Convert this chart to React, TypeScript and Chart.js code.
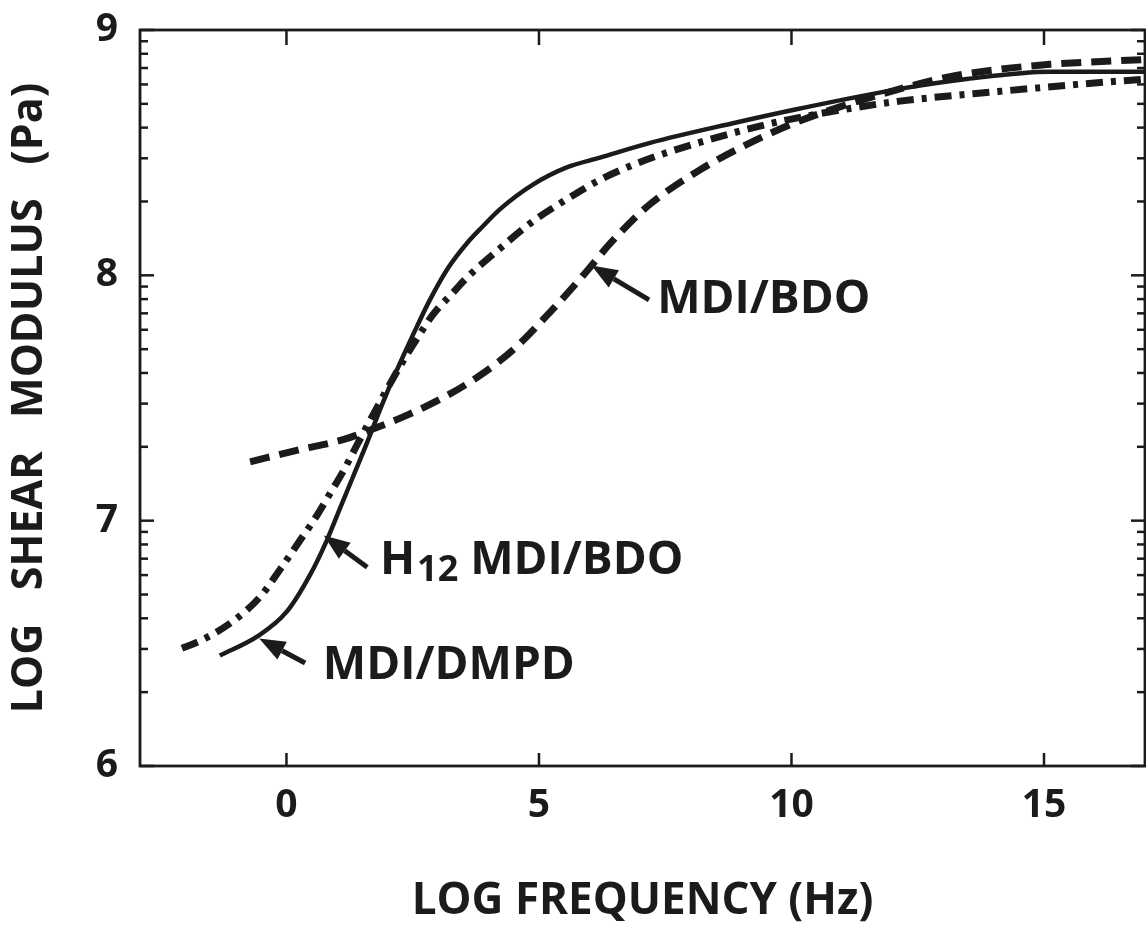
import React, { useEffect, useRef } from "react";
import { Chart, registerables } from "chart.js";

Chart.register(...registerables);

// ---------- data ----------
const xTickValues = [0, 5, 10, 15];
const yTickValues = [6, 7, 8, 9];
const yMinorFactors = [2, 3, 4, 5, 6, 7, 8, 9];

const xTitle = "LOG FREQUENCY (Hz)";
const yTitle = "LOG   SHEAR   MODULUS   (Pa)";

// MDI/DMPD (solid)
const dmpdX = [-1.32, -0.56, 0.01, 0.47, 0.8, 1.06, 1.32, 1.6, 1.79, 2.05, 2.31, 2.58, 2.84, 3.2, 3.57, 3.89, 4.23, 4.88, 5.55, 6.21, 7.2, 8.84, 10.17, 12.15, 13.47, 15.12, 17.0];
const dmpdY = [6.45, 6.53, 6.63, 6.78, 6.92, 7.05, 7.18, 7.32, 7.42, 7.55, 7.67, 7.79, 7.9, 8.03, 8.13, 8.2, 8.27, 8.37, 8.44, 8.48, 8.54, 8.62, 8.68, 8.76, 8.8, 8.83, 8.83];

// H12 MDI/BDO (dash-dot)
const h12X = [-2.07, -1.71, -1.06, -0.52, -0.13, 0.27, 0.6, 0.86, 1.12, 1.4, 1.79, 2.25, 2.64, 2.9, 3.3, 3.57, 4.23, 4.88, 5.55, 6.21, 6.86, 7.53, 8.84, 9.83, 11.16, 12.15, 14.13, 15.77, 17.0];
const h12Y = [6.48, 6.51, 6.59, 6.69, 6.8, 6.92, 7.02, 7.11, 7.2, 7.31, 7.46, 7.63, 7.76, 7.84, 7.93, 7.99, 8.11, 8.22, 8.31, 8.39, 8.45, 8.5, 8.58, 8.63, 8.68, 8.71, 8.75, 8.78, 8.8];

// MDI/BDO (dashed)
const bdoX = [-0.72, 0.27, 1.12, 1.79, 2.39, 3.18, 3.89, 4.56, 5.22, 5.75, 6.0, 6.41, 7.2, 8.19, 9.18, 10.17, 11.16, 12.15, 13.14, 14.13, 15.12, 17.0];
const bdoY = [7.24, 7.29, 7.33, 7.38, 7.43, 7.51, 7.6, 7.71, 7.85, 7.97, 8.03, 8.13, 8.29, 8.43, 8.54, 8.63, 8.7, 8.76, 8.81, 8.84, 8.86, 8.88];

// annotations (data coordinates)
const labelMain = ["MDI/BDO", "H", "MDI/DMPD"];
const labelSub = ["", "12", ""];
const labelRest = ["", " MDI/BDO", ""];
const labelX = [7.34, 1.85, 0.72];
const labelY = [7.9, 6.835, 6.41];
const arrowTipX = [6.04, 0.74, -0.54];
const arrowTipY = [8.04, 6.94, 6.52];
const arrowTailX = [7.18, 1.6, 0.37];
const arrowTailY = [7.9, 6.81, 6.42];

const INK = "#1b1b1b";
const FONT = "'Open Sans', 'Noto Sans', sans-serif";

const toPoints = (xs: number[], ys: number[]) => xs.map((x, i) => ({ x, y: ys[i] }));

const framePlugin = {
  id: "frameTicks",
  afterDatasetsDraw(chart: any) {
    const { ctx, chartArea: a, scales } = chart;
    const x = scales.x;
    const y = scales.y;
    ctx.save();
    ctx.strokeStyle = INK;
    ctx.lineWidth = 2.8;
    ctx.strokeRect(a.left, a.top, a.right - a.left, a.bottom - a.top);
    const seg = (x1: number, y1: number, x2: number, y2: number) => {
      ctx.beginPath();
      ctx.moveTo(x1, y1);
      ctx.lineTo(x2, y2);
      ctx.stroke();
    };
    ctx.lineWidth = 2.5;
    for (const v of xTickValues) {
      const px = x.getPixelForValue(v);
      seg(px, a.bottom, px, a.bottom - 13);
      seg(px, a.top, px, a.top + 15);
    }
    for (let d = yTickValues[0]; d < yTickValues[yTickValues.length - 1]; d++) {
      for (const f of yMinorFactors) {
        const py = y.getPixelForValue(d + Math.log10(f));
        seg(a.left, py, a.left + 8, py);
        seg(a.right, py, a.right - 8, py);
      }
    }
    for (const v of yTickValues) {
      const py = y.getPixelForValue(v);
      seg(a.left, py, a.left + 14, py);
      seg(a.right, py, a.right - 14, py);
    }
    ctx.restore();
  },
};

const annotationPlugin = {
  id: "labelsArrows",
  afterDatasetsDraw(chart: any) {
    const { ctx, scales } = chart;
    const x = scales.x;
    const y = scales.y;
    ctx.save();
    ctx.fillStyle = INK;
    ctx.strokeStyle = INK;
    for (let i = 0; i < labelMain.length; i++) {
      const tx = x.getPixelForValue(arrowTipX[i]);
      const ty = y.getPixelForValue(arrowTipY[i]);
      const sx = x.getPixelForValue(arrowTailX[i]);
      const sy = y.getPixelForValue(arrowTailY[i]);
      const ang = Math.atan2(ty - sy, tx - sx);
      const headLen = 26;
      const headW = 10;
      const bx = tx - headLen * Math.cos(ang);
      const by = ty - headLen * Math.sin(ang);
      ctx.lineWidth = 5;
      ctx.beginPath();
      ctx.moveTo(sx, sy);
      ctx.lineTo(bx, by);
      ctx.stroke();
      ctx.beginPath();
      ctx.moveTo(tx, ty);
      ctx.lineTo(bx + headW * Math.sin(ang), by - headW * Math.cos(ang));
      ctx.lineTo(bx - headW * Math.sin(ang), by + headW * Math.cos(ang));
      ctx.closePath();
      ctx.fill();

      let lx = x.getPixelForValue(labelX[i]);
      const ly = y.getPixelForValue(labelY[i]);
      ctx.textBaseline = "middle";
      ctx.textAlign = "left";
      ctx.font = `bold 46px ${FONT}`;
      ctx.fillText(labelMain[i], lx, ly);
      lx += ctx.measureText(labelMain[i]).width;
      if (labelSub[i]) {
        ctx.font = `bold 36px ${FONT}`;
        ctx.fillText(labelSub[i], lx + 2, ly + 10);
        lx += ctx.measureText(labelSub[i]).width + 2;
      }
      if (labelRest[i]) {
        ctx.font = `bold 46px ${FONT}`;
        ctx.fillText(labelRest[i], lx, ly);
      }
    }
    ctx.restore();
  },
};

export default function App() {
  const canvasRef = useRef<HTMLCanvasElement | null>(null);

  useEffect(() => {
    if (!canvasRef.current) return;
    const chart = new Chart(canvasRef.current, {
      type: "scatter",
      data: {
        datasets: [
          {
            label: "MDI/DMPD",
            data: toPoints(dmpdX, dmpdY),
            showLine: true,
            borderColor: INK,
            borderWidth: 4.5,
            pointRadius: 0,
            cubicInterpolationMode: "monotone",
          },
          {
            label: "H12 MDI/BDO",
            data: toPoints(h12X, h12Y),
            showLine: true,
            borderColor: INK,
            borderWidth: 7,
            borderDash: [17, 8, 5, 8],
            pointRadius: 0,
            cubicInterpolationMode: "monotone",
          },
          {
            label: "MDI/BDO",
            data: toPoints(bdoX, bdoY),
            showLine: true,
            borderColor: INK,
            borderWidth: 7,
            borderDash: [20, 10],
            pointRadius: 0,
            cubicInterpolationMode: "monotone",
          },
        ],
      },
      options: {
        responsive: false,
        animation: false,
        devicePixelRatio: 1,
        layout: { padding: { left: 0, top: 30, right: 1, bottom: 0 } },
        plugins: { legend: { display: false }, tooltip: { enabled: false } },
        scales: {
          x: {
            type: "linear",
            min: -2.9,
            max: 17.0,
            afterBuildTicks: (s: any) => {
              s.ticks = xTickValues.map((v) => ({ value: v }));
            },
            afterFit: (s: any) => {
              s.height = 165;
              s.paddingLeft = 0;
              s.paddingRight = 0;
            },
            grid: { display: false, drawTicks: false },
            border: { display: false },
            ticks: {
              color: INK,
              padding: 16,
              font: { family: FONT, size: 39, weight: "bold" },
              maxRotation: 0,
            },
            title: {
              display: true,
              text: xTitle,
              color: INK,
              font: { family: FONT, size: 44, weight: "bold" },
              padding: { top: 0, bottom: 3 },
            },
          },
          y: {
            type: "linear",
            min: 6,
            max: 9,
            afterBuildTicks: (s: any) => {
              s.ticks = yTickValues.map((v) => ({ value: v }));
            },
            afterFit: (s: any) => {
              s.width = 140;
              s.paddingTop = 0;
              s.paddingBottom = 0;
            },
            grid: { display: false, drawTicks: false },
            border: { display: false },
            ticks: {
              color: INK,
              padding: 22,
              font: { family: FONT, size: 39, weight: "bold" },
            },
            title: {
              display: true,
              text: yTitle,
              color: INK,
              font: { family: FONT, size: 43, weight: "bold" },
              padding: { top: 4, bottom: 0 },
            },
          },
        },
      },
      plugins: [framePlugin, annotationPlugin],
    });
    return () => chart.destroy();
  }, []);

  return (
    <div style={{ position: "absolute", left: 0, top: 0, width: 1146, height: 931, background: "#fff" }}>
      <canvas ref={canvasRef} width={1146} height={931} />
    </div>
  );
}
